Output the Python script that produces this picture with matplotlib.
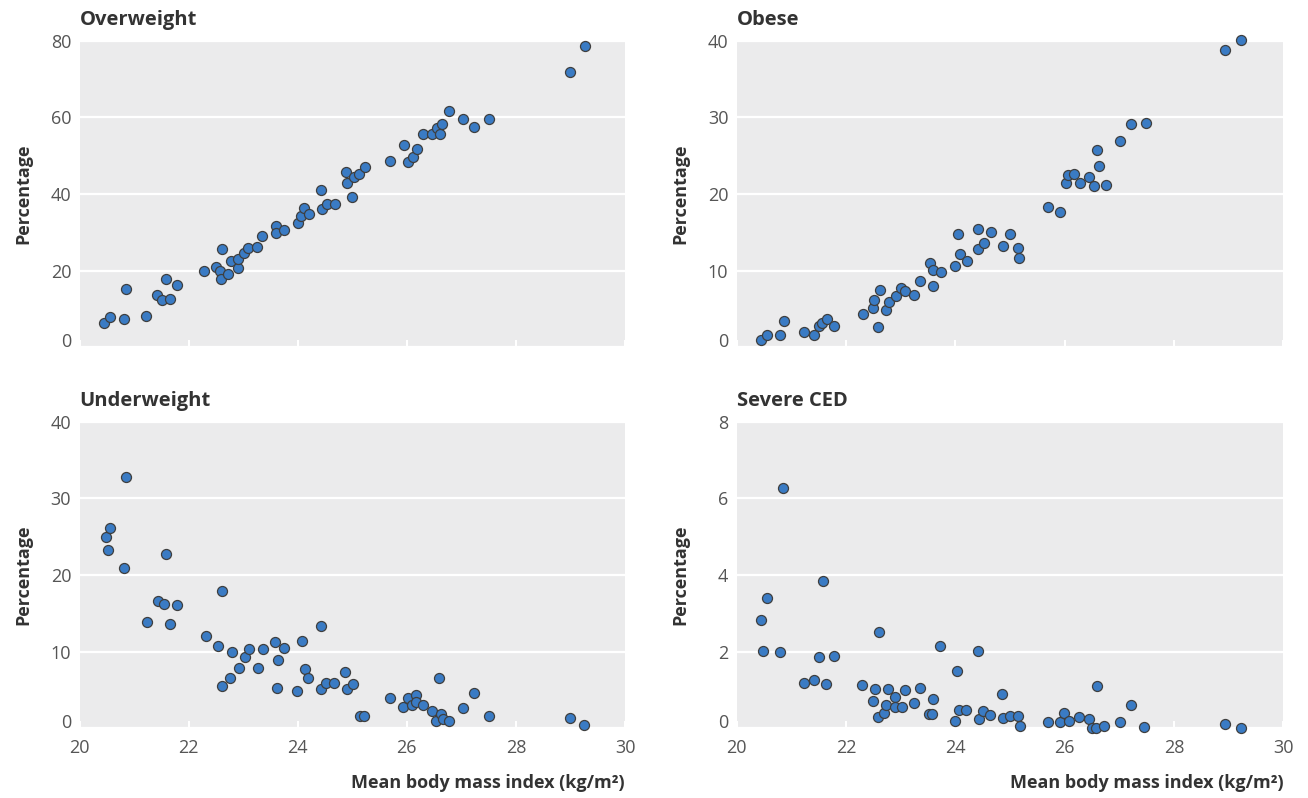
import matplotlib
matplotlib.use("Agg")
import matplotlib.pyplot as plt

# ---------------- data ----------------
panel_titles = ["Overweight", "Obese", "Underweight", "Severe CED"]
y_limits = [80, 40, 40, 8]
y_ticks = [[0, 20, 40, 60, 80], [0, 10, 20, 30, 40], [0, 10, 20, 30, 40], [0, 2, 4, 6, 8]]
x_ticks = [20, 22, 24, 26, 28, 30]

overweight_bmi = [20.45, 20.55, 20.85, 20.82, 21.22, 21.42, 21.51, 21.59, 21.65, 21.79,
                  22.29, 22.51, 22.58, 22.59, 22.61, 22.73, 22.78, 22.91, 22.91, 23.02,
                  23.09, 23.26, 23.35, 23.60, 23.61, 23.74, 24.00, 24.06, 24.11, 24.20,
                  24.43, 24.44, 24.54, 24.68, 24.88, 24.90, 25.00, 25.03, 25.13, 25.23,
                  25.70, 25.95, 26.02, 26.11, 26.18, 26.30, 26.46, 26.56, 26.61, 26.64,
                  26.77, 27.03, 27.24, 27.51, 29.00, 29.26]
overweight_pct = [6.4, 7.9, 15.1, 7.4, 8.2, 13.6, 12.3, 17.7, 12.7, 16.3,
                  20.0, 20.9, 20.0, 17.9, 25.7, 19.1, 22.4, 20.8, 23.1, 24.7,
                  25.9, 26.2, 29.1, 31.7, 29.7, 30.6, 32.3, 34.3, 36.4, 34.7,
                  41.0, 36.1, 37.3, 37.3, 45.8, 42.9, 39.2, 44.4, 45.1, 47.0,
                  48.6, 52.7, 48.2, 49.6, 51.8, 55.6, 55.6, 57.1, 55.6, 58.3,
                  61.7, 59.6, 57.4, 59.5, 71.7, 78.5]

obese_bmi = [20.45, 20.56, 20.80, 20.87, 21.23, 21.42, 21.51, 21.56, 21.65, 21.78,
             22.31, 22.49, 22.52, 22.59, 22.62, 22.73, 22.78, 22.91, 23.01, 23.08,
             23.24, 23.35, 23.53, 23.60, 23.60, 23.74, 23.99, 24.05, 24.09, 24.21,
             24.42, 24.42, 24.52, 24.66, 24.88, 25.00, 25.14, 25.16, 25.69, 25.92,
             26.02, 26.07, 26.18, 26.28, 26.44, 26.54, 26.59, 26.62, 26.76, 27.02,
             27.21, 27.48, 28.94, 29.22]
obese_pct = [0.9, 1.6, 1.6, 3.4, 2.0, 1.6, 2.8, 3.2, 3.7, 2.8,
             4.3, 5.1, 6.2, 2.7, 7.5, 4.8, 5.9, 6.7, 7.7, 7.3,
             6.8, 8.7, 11.0, 10.1, 8.0, 9.8, 10.6, 14.8, 12.1, 11.2,
             15.4, 12.8, 13.6, 15.0, 13.2, 14.8, 12.9, 11.7, 18.3, 17.7,
             21.4, 22.4, 22.6, 21.4, 22.2, 21.0, 25.7, 23.6, 21.2, 26.9,
             29.1, 29.2, 38.8, 40.1]

underweight_bmi = [20.48, 20.56, 20.52, 20.85, 20.82, 21.24, 21.43, 21.54, 21.59, 21.65,
                   21.79, 22.31, 22.54, 22.62, 22.61, 22.76, 22.80, 22.93, 23.03, 23.10,
                   23.27, 23.36, 23.58, 23.63, 23.62, 23.75, 23.99, 24.07, 24.13, 24.18,
                   24.43, 24.43, 24.51, 24.67, 24.87, 24.90, 25.02, 25.15, 25.22, 25.70,
                   25.93, 26.02, 26.10, 26.17, 26.17, 26.30, 26.47, 26.59, 26.54, 26.63,
                   26.66, 26.77, 27.03, 27.23, 27.51, 28.99, 29.25]
underweight_pct = [25.0, 26.1, 23.2, 32.8, 20.9, 13.9, 16.6, 16.2, 22.8, 13.6,
                   16.1, 12.0, 10.7, 17.9, 5.5, 6.6, 10.0, 7.9, 9.3, 10.3,
                   7.9, 10.3, 11.2, 8.9, 5.3, 10.5, 4.9, 11.4, 7.7, 6.5,
                   13.4, 5.1, 5.9, 5.9, 7.3, 5.1, 5.8, 1.6, 1.6, 4.0,
                   2.8, 4.0, 3.1, 4.4, 3.4, 3.1, 2.3, 6.5, 1.0, 1.9,
                   1.2, 0.9, 2.7, 4.6, 1.6, 1.3, 0.4]

ced_bmi = [20.45, 20.55, 20.48, 20.84, 20.80, 21.23, 21.41, 21.58, 21.51, 21.63,
           21.78, 22.30, 22.49, 22.53, 22.61, 22.59, 22.69, 22.74, 22.77, 22.89,
           22.89, 23.02, 23.08, 23.25, 23.35, 23.52, 23.57, 23.60, 23.72, 23.99,
           24.03, 24.07, 24.19, 24.42, 24.43, 24.51, 24.63, 24.85, 24.87, 25.00,
           25.14, 25.18, 25.69, 25.92, 25.99, 26.08, 26.27, 26.44, 26.50, 26.58,
           26.59, 26.72, 27.02, 27.21, 27.46, 28.94, 29.22]
ced_pct = [2.82, 3.41, 2.01, 6.28, 2.00, 1.17, 1.25, 3.85, 1.85, 1.16,
           1.89, 1.13, 0.70, 1.03, 2.51, 0.30, 0.39, 0.61, 1.03, 0.82,
           0.56, 0.56, 1.00, 0.67, 1.06, 0.38, 0.38, 0.76, 2.16, 0.18,
           1.49, 0.48, 0.48, 2.01, 0.23, 0.44, 0.34, 0.89, 0.26, 0.33,
           0.33, 0.06, 0.17, 0.16, 0.40, 0.20, 0.29, 0.25, 0.01, 0.01,
           1.11, 0.05, 0.16, 0.61, 0.04, 0.10, 0.01]

xs = [overweight_bmi, obese_bmi, underweight_bmi, ced_bmi]
ys = [overweight_pct, obese_pct, underweight_pct, ced_pct]

# ---------------- style ----------------
FONT = ["Open Sans", "DejaVu Sans"]
plt.rcParams["font.family"] = FONT
BG = "#ebebec"
DOT = "#3a7bc4"
EDGE = "#3f3f3f"
TXT = "#333333"
TICK = "#555555"

W, H = 1308, 798
fig = plt.figure(figsize=(W / 100, H / 100), dpi=100)

lefts = [79.5, 736.7]
widths = [545.5, 546.6]
tops = [40.5, 421.7]
heights = [306.8, 306.6]

for i in range(4):
    r, c = divmod(i, 2)
    ax = fig.add_axes([lefts[c] / W, 1 - (tops[r] + heights[r]) / H,
                       widths[c] / W, heights[r] / H])
    ax.set_facecolor(BG)
    for s in ax.spines.values():
        s.set_visible(False)
    ax.set_xlim(20, 30)
    ax.set_ylim(0, y_limits[i])
    ax.set_xticks(x_ticks)
    ax.set_yticks(y_ticks[i])
    ax.grid(axis="y", color="white", linewidth=1.6)
    ax.set_axisbelow(True)
    ax.tick_params(axis="x", direction="in", color="white", length=5, width=1.5,
                   labelsize=13, labelcolor=TICK, pad=8)
    ax.tick_params(axis="y", length=0, labelsize=13, labelcolor=TICK, pad=6)
    if r == 0:
        ax.tick_params(axis="x", labelbottom=False)
    else:
        ax.set_xlabel("Mean body mass index (kg/m²)", fontsize=13, fontweight="bold",
                      color=TXT, loc="right", labelpad=12)
    # the "0" label sits slightly above the bottom edge, as in the reference
    ylabs = ax.get_yticklabels()
    ylabs[0].set_verticalalignment("baseline")
    ax.set_ylabel("Percentage", fontsize=13, fontweight="bold", color=TXT)
    ax.yaxis.set_label_coords(-0.087, 0.5)
    ax.set_title(panel_titles[i], loc="left", fontsize=14.5, fontweight="bold",
                 color=TXT, pad=11)
    ax.scatter(xs[i], ys[i], s=52, color=DOT, edgecolor=EDGE, linewidth=0.9,
               zorder=3, clip_on=False)

fig.savefig("out.png", dpi=100, facecolor="white")
